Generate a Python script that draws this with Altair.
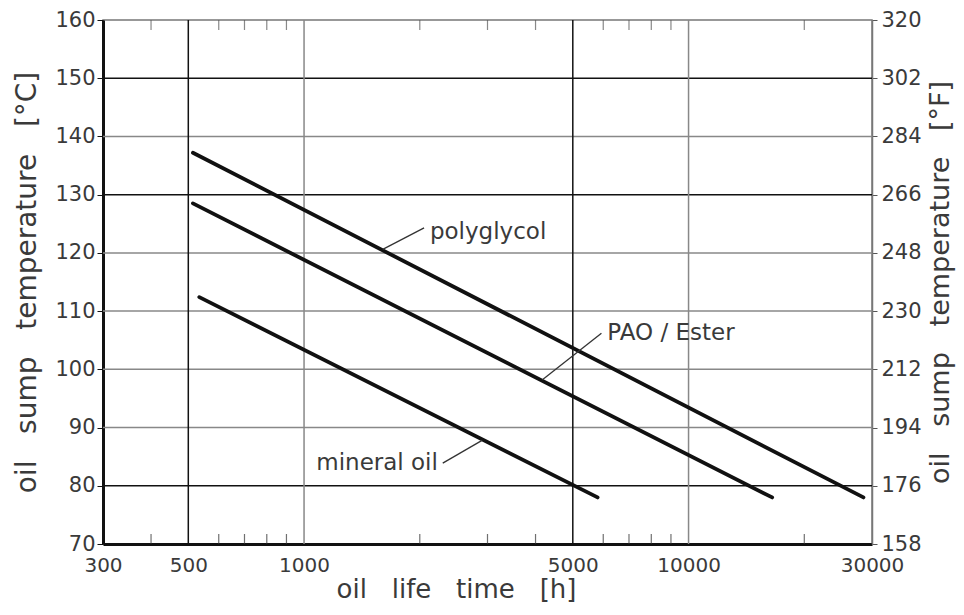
import altair as alt
import pandas as pd

# ---- data ----
hours_poly = [514, 28500]
temp_poly = [137.2, 78.0]
hours_pao = [514, 16500]
temp_pao = [128.5, 78.0]
hours_min = [534, 5800]
temp_min = [112.4, 78.0]

series_names = ["polyglycol", "PAO / Ester", "mineral oil"]

# leader lines (start on curve -> end at label)
lead_poly_h = [1602, 2052]
lead_poly_t = [120.6, 124.3]
lead_pao_h = [4168, 5935]
lead_pao_t = [98.2, 106.2]
lead_min_h = [2295, 2904]
lead_min_t = [83.9, 87.8]

label_texts = ["polyglycol", "PAO / Ester", "mineral oil"]
label_h = [2125, 6150, 2229]
label_t = [123.6, 106.2, 83.9]
label_align = ["left", "left", "right"]

x_ticks = [300, 500, 1000, 5000, 10000, 30000]
x_minor = [400, 600, 700, 800, 900, 2000, 3000, 4000, 6000, 7000, 8000, 9000, 20000]
v_grid = [500, 1000, 5000, 10000]
v_grid_col = ["#111111", "#888888", "#111111", "#888888"]
c_ticks = [70, 80, 90, 100, 110, 120, 130, 140, 150, 160]
h_grid = [80, 90, 100, 110, 120, 130, 140, 150]
h_grid_col = ["#111111", "#888888", "#888888", "#888888", "#888888", "#111111", "#888888", "#111111"]
f_ticks = [158, 176, 194, 212, 230, 248, 266, 284, 302, 320]

W, H = 769, 524
FONT = "DejaVu Sans"
TXT = "#3a3a3a"
SP = "\u00a0\u00a0\u00a0"

xscale = alt.Scale(type="log", domain=[300, 30000], nice=False)
yscale = alt.Scale(domain=[70, 160], nice=False, zero=False)

lines_df = pd.DataFrame({
    "h": hours_poly + hours_pao + hours_min,
    "t": temp_poly + temp_pao + temp_min,
    "s": [series_names[0]] * 2 + [series_names[1]] * 2 + [series_names[2]] * 2,
})
lead_df = pd.DataFrame({
    "h": lead_poly_h + lead_pao_h + lead_min_h,
    "t": lead_poly_t + lead_pao_t + lead_min_t,
    "s": ["a"] * 2 + ["b"] * 2 + ["c"] * 2,
})
lab_df = pd.DataFrame({"h": label_h, "t": label_t, "txt": label_texts, "al": label_align})
vg_df = pd.DataFrame({"h": v_grid, "c": v_grid_col})
hg_df = pd.DataFrame({"t": h_grid, "c": h_grid_col})
minor_df = pd.DataFrame({"h": x_minor})
f_df = pd.DataFrame({"f": f_ticks})

x_axis = alt.Axis(
    values=x_ticks, format="d", ticks=False, labelPadding=11, labelFontSize=20,
    labelFont=FONT, labelColor=TXT, domainColor="#111111", domainWidth=3,
    title=f"oil{SP}life{SP}time{SP}[h]", titleFontSize=26, titleFont=FONT,
    titleColor=TXT, titleFontWeight="normal", titlePadding=1, titleX=353,
    grid=False, labelFlush=False,
)
left_axis = alt.Axis(
    values=c_ticks, format="d", tickSize=6, tickColor="#111111", labelPadding=2,
    labelFontSize=21, labelFont=FONT, labelColor=TXT, domainColor="#111111", domainWidth=3,
    title=f"oil{SP}sump{SP}temperature{SP}[°C]", titleFontSize=28, titleFont=FONT,
    titleColor=TXT, titleFontWeight="normal", titlePadding=13, grid=False,
)
right_axis = alt.Axis(
    orient="right", values=f_ticks, format="d", tickSize=5, tickColor="#555555", labelPadding=4,
    labelFontSize=21, labelFont=FONT, labelColor=TXT, domainColor="#777777", domainWidth=1.5,
    title=f"oil{SP}sump{SP}temperature{SP}[°F]", titleFontSize=27, titleFont=FONT,
    titleColor=TXT, titleFontWeight="normal", titlePadding=6, titleAngle=270,
    titleBaseline="top", grid=False,
)

X = alt.X("h:Q", scale=xscale, axis=x_axis)
Y = alt.Y("t:Q", scale=yscale, axis=left_axis)

hgrid = alt.Chart(hg_df).mark_rule(strokeWidth=1.5).encode(
    y=Y,
    color=alt.Color("c:N", scale=None),
)
vgrid = alt.Chart(vg_df).mark_rule(strokeWidth=1.5).encode(
    x=X,
    color=alt.Color("c:N", scale=None),
)
minor_bot = alt.Chart(minor_df).mark_tick(color="#333333", size=10, thickness=1.2, orient="vertical").encode(
    x=X, y=alt.value(H - 5),
)
minor_top = alt.Chart(minor_df).mark_tick(color="#555555", size=10, thickness=1.2, orient="vertical").encode(
    x=X, y=alt.value(5),
)
curves = alt.Chart(lines_df).mark_line(color="#111111", strokeWidth=3.8, strokeCap="round").encode(
    x=X, y=Y, detail="s:N",
)
leaders = alt.Chart(lead_df).mark_line(color="#333333", strokeWidth=1.3).encode(
    x=X, y=Y, detail="s:N",
)
lab_left = alt.Chart(lab_df[lab_df["al"] == "left"]).mark_text(
    align="left", baseline="middle", fontSize=23, font=FONT, color=TXT
).encode(x=X, y=Y, text="txt:N")
lab_right = alt.Chart(lab_df[lab_df["al"] == "right"]).mark_text(
    align="right", baseline="middle", fontSize=23, font=FONT, color=TXT
).encode(x=X, y=Y, text="txt:N")

left_layer = alt.layer(hgrid, vgrid, minor_bot, minor_top, curves, leaders, lab_left, lab_right)

right_layer = alt.Chart(f_df).mark_point(opacity=0).encode(
    y=alt.Y("f:Q", scale=alt.Scale(domain=[158, 320], nice=False, zero=False), axis=right_axis),
)

chart = alt.layer(left_layer, right_layer).resolve_scale(y="independent").properties(
    width=W, height=H,
    autosize=alt.AutoSizeParams(type="none"),
    padding={"left": 95, "top": 12, "right": 84, "bottom": 63},
).configure_view(stroke="#777777", strokeWidth=1.5)

chart.save("out.html", embed_options={"renderer": "svg", "actions": False})
